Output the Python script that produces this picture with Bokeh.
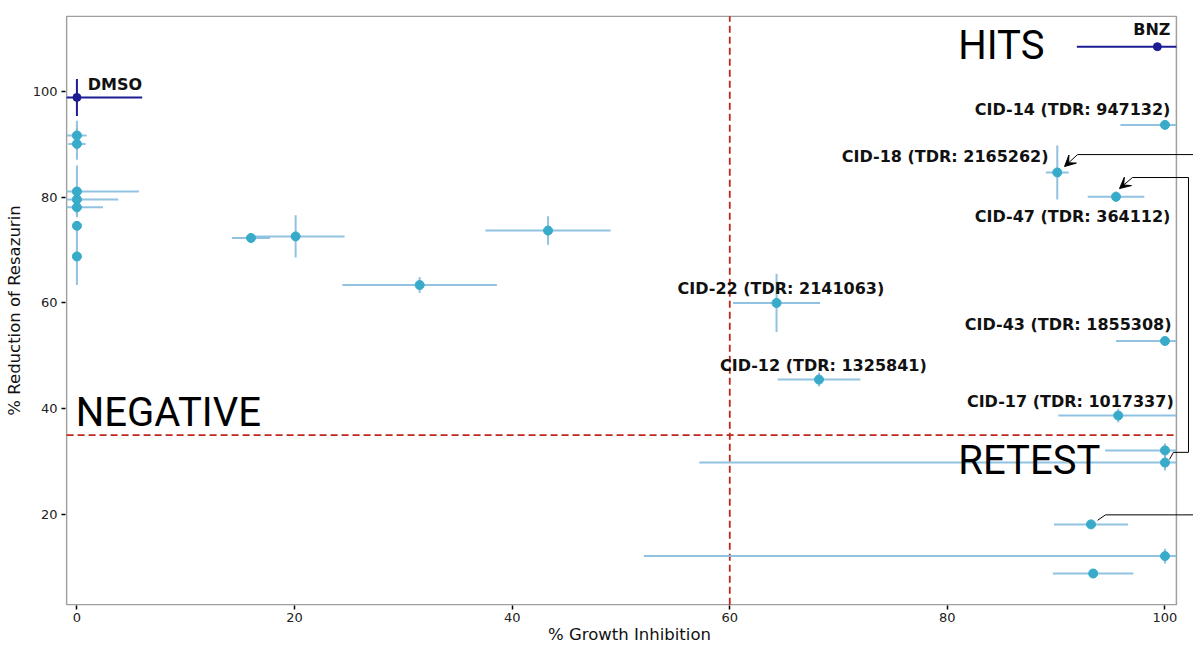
import numpy as np
from bokeh.plotting import figure
from bokeh.models import ColumnDataSource, FixedTicker, Range1d, Arrow, VeeHead
from bokeh.core.properties import value
from bokeh.embed import file_html
from bokeh.resources import INLINE

# ---------------- data ----------------
# screened compounds (light blue)
cmp_x = [0, 0, 0, 0, 0, 0, 0, 16.0, 20.1, 43.3, 31.5, 64.3, 68.2,
         100, 90.1, 95.5, 100, 95.7, 100, 100, 93.2, 100, 93.4]
cmp_y = [91.7, 90.1, 81.1, 79.6, 78.1, 74.6, 68.8, 72.3, 72.6, 73.7, 63.4, 60.0, 45.5,
         93.7, 84.7, 80.1, 52.8, 38.7, 32.1, 29.8, 18.1, 12.1, 8.8]
cmp_xerr = [0.9, 0.8, 5.7, 3.8, 2.4, 0, 0, 1.75, 4.5, 5.75, 7.1, 4.0, 3.8,
            4.1, 1.05, 2.6, 4.5, 5.5, 5.5, 42.8, 3.4, 47.9, 3.7]
cmp_yerr = [2.8, 3.0, 4.9, 1.5, 1.5, 0.5, 5.4, 0.3, 4.0, 2.7, 1.5, 5.5, 1.3,
            0.3, 5.1, 1.0, 0.3, 1.3, 1.3, 1.5, 0.3, 1.4, 0.3]

# controls (dark blue)
ctrl_name = ["DMSO", "BNZ"]
ctrl_x = [0, 99.3]
ctrl_y = [98.9, 108.5]
ctrl_xerr = [6.0, 7.4]
ctrl_yerr = [3.5, 0.3]

# point labels
label_text = ["DMSO", "BNZ", "CID-14 (TDR: 947132)", "CID-18 (TDR: 2165262)",
              "CID-47 (TDR: 364112)", "CID-22 (TDR: 2141063)", "CID-43 (TDR: 1855308)",
              "CID-12 (TDR: 1325841)", "CID-17 (TDR: 1017337)"]
label_x = [1.0, 100.5, 100.5, 89.3, 100.5, 64.7, 100.6, 68.6, 100.8]
label_y = [101.3, 111.7, 96.6, 87.7, 76.4, 62.7, 55.9, 48.2, 41.4]
label_align = ["left", "right", "right", "right", "right", "center", "right", "center", "right"]

# quadrant labels
quad_text = ["HITS", "NEGATIVE", "RETEST"]
quad_x = [81.0, -0.1, 81.0]
quad_y = [108.7, 39.3, 30.2]

# thresholds
x_cut = 60
y_cut = 35

# connector paths (leader lines of repelled labels)
conn_a_x = [91.96, 102.7]
conn_a_y = [88.08, 88.08]
arrow_a = (91.96, 88.08, 90.77, 85.82)
conn_b_x = [97.01, 102.16, 102.16, 100.78, 100.41]
conn_b_y = [83.74, 83.74, 31.73, 31.73, 30.4]
arrow_b = (97.01, 83.74, 95.82, 81.65)
conn_c_x = [93.8, 94.53, 102.7]
conn_c_y = [18.87, 19.9, 19.9]

x_ticks = [0, 20, 40, 60, 80, 100]
y_ticks = [20, 40, 60, 80, 100]

# panel limits
PX0, PX1 = -0.95, 101.05
PY0, PY1 = 2.9, 114.24

LIGHT_ERR = "#86BBDF"
LIGHT_PT = "#37ABC9"
DARK = "#1C1C93"
RED = "#C0261C"

p = figure(width=1193, height=646, output_backend="svg", toolbar_location=None,
           x_range=Range1d(-1.05, 102.62), y_range=Range1d(2.75, 114.4),
           min_border_left=65, min_border_right=0, min_border_top=15, min_border_bottom=40,
           background_fill_color="white", border_fill_color="white")
p.outline_line_color = None
p.xgrid.visible = False
p.ygrid.visible = False

# panel border
p.quad(left=[PX0], right=[PX1], bottom=[PY0], top=[PY1], fill_color=None,
       line_color="#A0A0A0", line_width=1.5)

# thresholds
p.segment(x0=[x_cut], x1=[x_cut], y0=[PY0], y1=[PY1], line_color=RED, line_width=1.8, line_dash="7 4")
p.segment(x0=[PX0], x1=[PX1], y0=[y_cut], y1=[y_cut], line_color=RED, line_width=1.8, line_dash="7 4")

def errbars(xs, ys, xe, ye, color, alpha):
    xs, ys, xe, ye = map(np.asarray, (xs, ys, xe, ye))
    hx0 = np.clip(xs - xe, PX0, PX1)
    hx1 = np.clip(xs + xe, PX0, PX1)
    vy0 = np.clip(ys - ye, PY0, PY1)
    vy1 = np.clip(ys + ye, PY0, PY1)
    p.segment(x0=hx0, x1=hx1, y0=ys, y1=ys, line_color=color, line_width=2, line_alpha=alpha)
    p.segment(x0=xs, x1=xs, y0=vy0, y1=vy1, line_color=color, line_width=2, line_alpha=alpha)

errbars(cmp_x, cmp_y, cmp_xerr, cmp_yerr, LIGHT_ERR, 0.9)
errbars(ctrl_x, ctrl_y, ctrl_xerr, ctrl_yerr, DARK, 1.0)

p.scatter(cmp_x, cmp_y, size=9, fill_color=LIGHT_PT, line_color=LIGHT_PT)
p.scatter(ctrl_x, ctrl_y, size=8, fill_color=DARK, line_color=DARK)

# connectors
for cx, cy in [(conn_a_x, conn_a_y), (conn_b_x, conn_b_y), (conn_c_x, conn_c_y)]:
    p.line(cx, cy, line_color="black", line_width=1)
for (xs, ys, xe, ye) in [arrow_a, arrow_b]:
    p.add_layout(Arrow(end=VeeHead(size=11, line_color="black", fill_color="black", line_width=1),
                       x_start=xs, y_start=ys, x_end=xe, y_end=ye,
                       line_color="black", line_width=1))

# labels
src = ColumnDataSource(dict(x=label_x, y=label_y, t=label_text, a=label_align))
p.text(x="x", y="y", text="t", text_align="a", text_baseline="middle", source=src,
       text_font=value("DejaVu Sans"), text_font_style="bold", text_font_size="16px",
       text_color="#111111")

qsrc = ColumnDataSource(dict(x=quad_x, y=quad_y, t=quad_text))
p.text(x="x", y="y", text="t", text_align="left", text_baseline="alphabetic", source=qsrc,
       text_font=value("Roboto"), text_font_size="40px", text_color="black")

# axes
for ax in (p.xaxis[0], p.yaxis[0]):
    ax.axis_line_color = None
    ax.major_tick_line_color = "black"
    ax.major_tick_line_width = 1.5
    ax.major_tick_in = 0
    ax.major_tick_out = 4
    ax.minor_tick_line_color = None
    ax.major_label_text_font = "DejaVu Sans"
    ax.major_label_text_font_size = "13px"
    ax.major_label_text_color = "#222222"
    ax.axis_label_text_font = "DejaVu Sans"
    ax.axis_label_text_font_size = "16.5px"
    ax.axis_label_text_font_style = "normal"
    ax.axis_label_text_color = "#111111"

p.xaxis.ticker = FixedTicker(ticks=x_ticks)
p.yaxis.ticker = FixedTicker(ticks=y_ticks)
p.xaxis.axis_label = "% Growth Inhibition"
p.yaxis.axis_label = "% Reduction of Resazurin"
p.xaxis.major_label_standoff = 3
p.yaxis.major_label_standoff = 4
p.xaxis.axis_label_standoff = 0
p.yaxis.axis_label_standoff = 6

open("out.html", "w").write(file_html(p, INLINE))
